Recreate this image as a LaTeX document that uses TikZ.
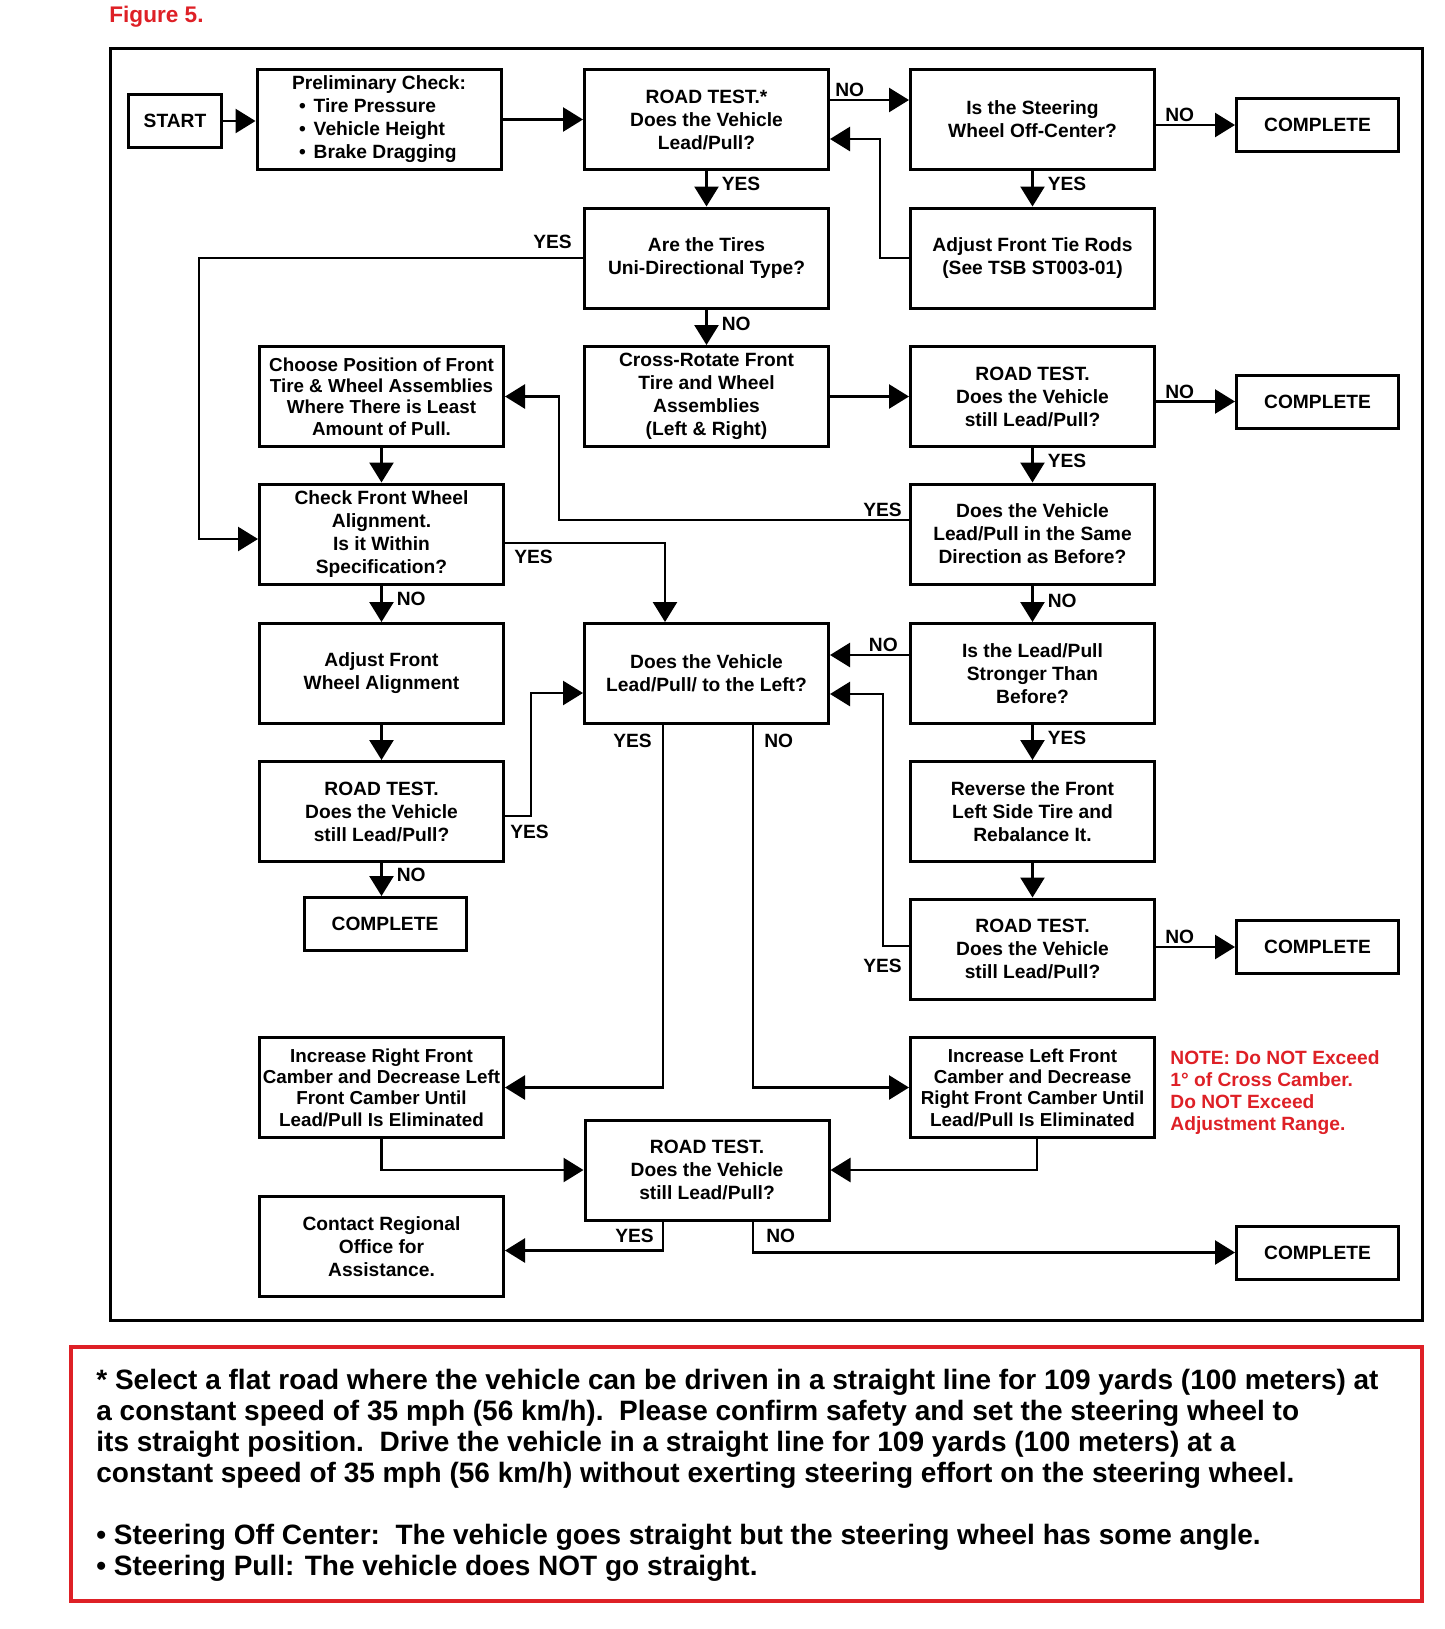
\documentclass[tikz,border=0pt]{standalone}
\usepackage{fontspec}
\setmainfont{Liberation Sans}
\usetikzlibrary{arrows.meta}

\definecolor{figred}{RGB}{222,32,38}
\newcommand{\stilltest}{ROAD TEST.\\Does the Vehicle\\still Lead/Pull?}

\begin{document}
\begin{tikzpicture}[
    x=0.5pt, y=-0.5pt,
    stepbox/.style={rectangle, draw, line width=1.5pt, minimum width=122pt, minimum height=50pt, align=center, inner sep=1pt, font=\bfseries\fontsize{9.6}{11.5}\selectfont},
    tightbox/.style={stepbox, font=\bfseries\fontsize{9.4}{10.7}\selectfont},
    donebox/.style={stepbox, minimum width=81pt, minimum height=26.5pt},
    arr/.style={line width=1.3pt, -{Triangle[length=10pt, width=12pt]}},
    lbl/.style={font=\bfseries\fontsize{9.6}{11}\selectfont, inner sep=1pt},
    redtext/.style={font=\bfseries\fontsize{9.6}{11}\selectfont, text=figred, align=left, inner sep=0pt}
]
    \useasboundingbox (0,0) rectangle (1445,1629);

    % frames and title
    \node[font=\bfseries\fontsize{11.3}{13}\selectfont, text=figred, anchor=west, inner sep=0pt] (figlabel) at (109,17) {Figure 5.};
    \draw[line width=1.5pt] (110,48) rectangle (1422,1320);
    \draw[figred, line width=2pt] (71,1347) rectangle (1422,1601);

    % top row
    \node[stepbox, minimum width=46.5pt, minimum height=26.5pt] (start) at (175,121) {START};
    \node[stepbox, align=left] (prelim) at (379,119.5) {Preliminary Check:\\\hspace{3.5pt}•\hspace{4pt}Tire Pressure\\\hspace{3.5pt}•\hspace{4pt}Vehicle Height\\\hspace{3.5pt}•\hspace{4pt}Brake Dragging};
    \node[stepbox] (rt1) at (706.5,119.5) {ROAD TEST.*\\Does the Vehicle\\Lead/Pull?};
    \node[stepbox] (steer) at (1032.5,119.5) {Is the Steering\\Wheel Off-Center?};

    % middle column
    \node[stepbox] (tires) at (706.5,258) {Are the Tires\\Uni-Directional Type?};
    \node[stepbox] (cross) at (706.5,396.5) {Cross-Rotate Front\\Tire and Wheel\\Assemblies\\(Left \& Right)};
    \node[stepbox] (lead) at (706.5,673.5) {Does the Vehicle\\Lead/Pull/ to the Left?};
    \node[stepbox] (rt5) at (707,1170) {\stilltest};

    % right column
    \node[stepbox] (tie) at (1032.5,258) {Adjust Front Tie Rods\\(See TSB ST003-01)};
    \node[stepbox] (rt2) at (1032.5,396.5) {\stilltest};
    \node[stepbox] (same) at (1032.5,534) {Does the Vehicle\\Lead/Pull in the Same\\Direction as Before?};
    \node[stepbox] (stronger) at (1032.5,673.5) {Is the Lead/Pull\\Stronger Than\\Before?};
    \node[stepbox] (reverse) at (1032.5,811.5) {Reverse the Front\\Left Side Tire and\\Rebalance It.};
    \node[stepbox] (rt4) at (1032.5,949) {\stilltest};
    \node[tightbox] (incL) at (1032.5,1087.5) {Increase Left Front\\Camber and Decrease\\Right Front Camber Until\\Lead/Pull Is Eliminated};

    % left column
    \node[tightbox] (choose) at (381.5,396.5) {Choose Position of Front\\Tire \& Wheel Assemblies\\Where There is Least\\Amount of Pull.};
    \node[stepbox] (check) at (381.5,534) {Check Front Wheel\\Alignment.\\Is it Within\\Specification?};
    \node[stepbox] (adjust) at (381.5,673.5) {Adjust Front\\Wheel Alignment};
    \node[stepbox] (rt3) at (381.5,811.5) {\stilltest};
    \node[donebox] (c3) at (385,924) {COMPLETE};
    \node[tightbox] (incR) at (381.5,1087.5) {Increase Right Front\\Camber and Decrease Left\\Front Camber Until\\Lead/Pull Is Eliminated};
    \node[stepbox] (contact) at (381.5,1246.5) {Contact Regional\\Office for\\Assistance.};

    % end boxes
    \foreach \n/\y in {c1/125, c2/401.5, c4/947, c5/1252.5} {
        \node[donebox] (\n) at (1317.5,\y) {COMPLETE};
    }

    \node[redtext, anchor=north west] (note) at (1170,1050) {NOTE: Do NOT Exceed\\1° of Cross Camber.\\Do NOT Exceed\\Adjustment Range.};

    % connectors, top part
    \draw[arr] (start) -- (start -| prelim.west);
    \draw[arr] (prelim) -- (rt1);
    \draw[arr] ([yshift=9.75pt]rt1.east) -- ([yshift=9.75pt]steer.west) node[lbl, pos=0, anchor=south west, xshift=1pt] {NO};
    \draw[arr] (tie.west) -- ++(-29,0) |- ([yshift=-9.75pt]rt1.east);
    \draw[arr] (steer.east |- c1) -- (c1.west) node[lbl, pos=0, anchor=south west, xshift=3pt] {NO};
    \draw[arr] (steer) -- (tie) node[lbl, right=6pt, pos=0.35] {YES};
    \draw[arr] (rt1) -- (tires) node[lbl, right=6pt, pos=0.35] {YES};
    \draw[arr] (tires.west) -- ++(-384,0) node[lbl, pos=0, anchor=south east, xshift=-4pt, yshift=3pt] {YES} |- ([yshift=-2.5pt]check.west);
    \draw[arr] (tires) -- (cross) node[lbl, right=6pt, pos=0.4] {NO};
    \draw[arr] (cross) -- (rt2);
    \draw[arr] (rt2.east |- c2) -- (c2.west) node[lbl, pos=0, anchor=south west, xshift=3pt] {NO};
    \draw[arr] (rt2) -- (same) node[lbl, right=6pt, pos=0.38] {YES};
    \draw[arr] ([yshift=7pt]same.west) -- ++(-350,0) node[lbl, pos=0, anchor=south east, xshift=-2pt] {YES} |- (choose.east);

    % connectors, middle part
    \draw[arr] (choose) -- (check);
    \draw[arr] ([yshift=-4.5pt]check.east) -| ([xshift=-20.75pt]lead.north) node[lbl, pos=0, anchor=north west, xshift=3pt, yshift=-2pt] {YES};
    \draw[arr] (check) -- (adjust) node[lbl, right=6pt, pos=0.36] {NO};
    \draw[arr] (same) -- (stronger) node[lbl, right=6pt, pos=0.42] {NO};
    \draw[arr] ([yshift=9.25pt]stronger.west) -- ([yshift=9.25pt]stronger.west -| lead.east) node[lbl, pos=0, anchor=south east, xshift=-4pt] {NO};
    \draw[arr] (stronger) -- (reverse) node[lbl, right=6pt, pos=0.37] {YES};
    \draw[arr] (reverse) -- (rt4);
    \draw[arr] ([yshift=1.5pt]rt4.west) -- ++(-26,0) node[lbl, pos=0, anchor=north east, xshift=-2pt, yshift=-5pt] {YES} |- ([yshift=-10.25pt]lead.east);
    \draw[arr] (rt4.east |- c4) -- (c4.west) node[lbl, pos=0, anchor=south west, xshift=3pt] {NO};
    \draw[arr] (adjust) -- (rt3);
    \draw[arr] ([yshift=-2.25pt]rt3.east) -- ++(26,0) node[lbl, pos=0, anchor=north west, xshift=1pt, yshift=-3pt] {YES} |- ([yshift=-9.75pt]lead.west);
    \draw[arr] (rt3) -- (rt3 |- c3.north) node[lbl, right=6pt, pos=0.36] {NO};

    % connectors, bottom part
    \draw[arr] ([xshift=-21.75pt]lead.south) |- (incR.east) node[lbl, pos=0, anchor=north east, xshift=-4pt, yshift=-3pt] {YES};
    \draw[arr] ([xshift=23.25pt]lead.south) |- (incL.west) node[lbl, pos=0, anchor=north west, xshift=4pt, yshift=-3pt] {NO};
    \draw[arr] (incR.south) |- (rt5.west);
    \draw[arr] ([xshift=2.25pt]incL.south) |- (rt5.east);
    \draw[arr] ([xshift=-22pt]rt5.south) |- ([yshift=-2pt]contact.east) node[lbl, pos=0, anchor=north east, xshift=-3pt, yshift=-2pt] {YES};
    \draw[arr] ([xshift=23pt]rt5.south) |- (c5.west) node[lbl, pos=0, anchor=north west, xshift=5pt, yshift=-2pt] {NO};

    % footnote
    \node[anchor=north west, align=left, inner sep=0pt, font=\bfseries\fontsize{14}{15.5}\selectfont] (footnote) at (96,1369) {* Select a flat road where the vehicle can be driven in a straight line for 109 yards (100 meters) at\\
a constant speed of 35 mph (56 km/h).\ \ Please confirm safety and set the steering wheel to\\
its straight position.\ \ Drive the vehicle in a straight line for 109 yards (100 meters) at a\\
constant speed of 35 mph (56 km/h) without exerting steering effort on the steering wheel.\\[15.5pt]
• Steering Off Center:\ \ The vehicle goes straight but the steering wheel has some angle.\\
• Steering Pull: The vehicle does NOT go straight.};
\end{tikzpicture}
\end{document}
